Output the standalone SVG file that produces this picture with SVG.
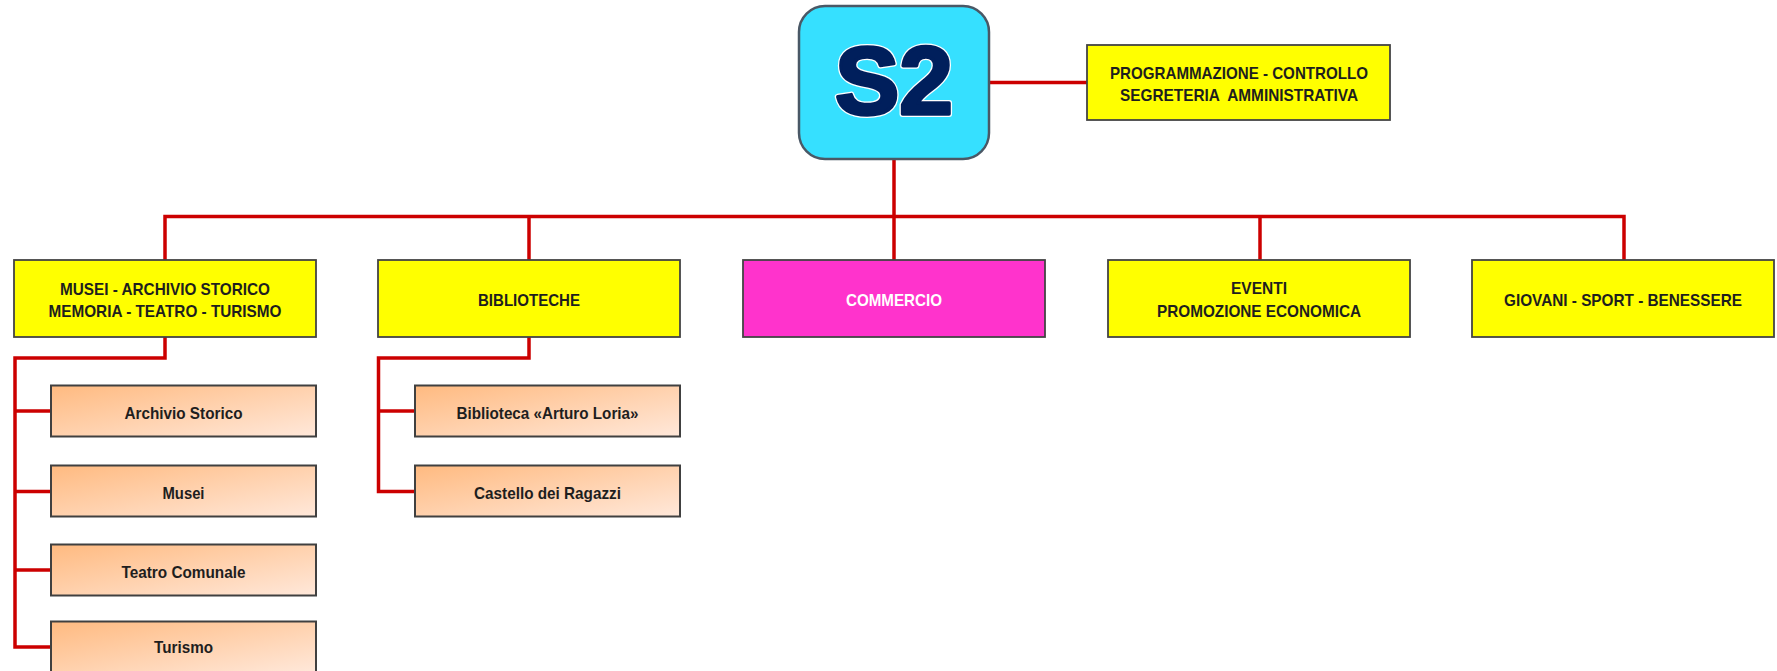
<svg xmlns="http://www.w3.org/2000/svg" width="1777" height="671" viewBox="0 0 1777 671">
<defs>
<linearGradient id="subg" x1="0" y1="0" x2="1" y2="1">
<stop offset="0" stop-color="#FFBA80"/>
<stop offset="1" stop-color="#FFE8DA"/>
</linearGradient>
</defs>
<style>
.conn{fill:none;stroke:#CC0000;stroke-width:3.5;stroke-linejoin:miter}
.yel{fill:#FFFF00;stroke:#444444;stroke-width:1.8}
.mag{fill:#FF33CC;stroke:#444444;stroke-width:1.8}
.sub{fill:url(#subg);stroke:#404040;stroke-width:2}
.t{font-family:"Liberation Sans",Arial,sans-serif;font-weight:bold;font-size:17px;fill:#1E1E1E;text-anchor:middle}
.tw{fill:#FFFFFF}
.big{font-family:"Liberation Sans",Arial,sans-serif;font-weight:bold;font-size:96px;text-anchor:middle;stroke-linejoin:round}
.halo{fill:#FFFFFF;stroke:#FFFFFF;stroke-width:6}
.ink{fill:#001F5C;stroke:#001F5C;stroke-width:3.5}
</style>
<rect width="1777" height="671" fill="#FFFFFF"/>
<g id="connectors">
<path class="conn" d="M989 82.5H1087"/>
<path class="conn" d="M894 159V216.5"/>
<path class="conn" d="M165 260V216.5H1624V260"/>
<path class="conn" d="M529 216.5V260"/>
<path class="conn" d="M894 216.5V260"/>
<path class="conn" d="M1260 216.5V260"/>
<path class="conn" d="M165 337V358H15V647H51"/>
<path class="conn" d="M15 411H51M15 491.5H51M15 570H51"/>
<path class="conn" d="M529 337V358H378.5V491.5H415"/>
<path class="conn" d="M378.5 411H415"/>
</g>
<g id="s2">
<rect x="799" y="6" width="190" height="153" rx="26" fill="#36E0FF" stroke="#4A5866" stroke-width="2.5"/>
<text class="big halo" x="894" y="114" textLength="118" lengthAdjust="spacingAndGlyphs">S2</text>
<text class="big ink" x="894" y="114" textLength="118" lengthAdjust="spacingAndGlyphs">S2</text>
</g>
<g id="programmazione">
<rect class="yel" x="1087" y="45" width="303" height="75"/>
<text class="t" x="1239" y="79" textLength="258" lengthAdjust="spacingAndGlyphs">PROGRAMMAZIONE - CONTROLLO</text>
<text class="t" x="1239" y="100.7" textLength="238" lengthAdjust="spacingAndGlyphs" xml:space="preserve">SEGRETERIA  AMMINISTRATIVA</text>
</g>
<g id="musei">
<rect class="yel" x="14" y="260" width="302" height="77"/>
<text class="t" x="165" y="295" textLength="210" lengthAdjust="spacingAndGlyphs">MUSEI - ARCHIVIO STORICO</text>
<text class="t" x="165" y="316.7" textLength="233" lengthAdjust="spacingAndGlyphs">MEMORIA - TEATRO - TURISMO</text>
</g>
<g id="biblioteche">
<rect class="yel" x="378" y="260" width="302" height="77"/>
<text class="t" x="529" y="306" textLength="102" lengthAdjust="spacingAndGlyphs">BIBLIOTECHE</text>
</g>
<g id="commercio">
<rect class="mag" x="743" y="260" width="302" height="77"/>
<text class="t tw" x="894" y="306" textLength="96" lengthAdjust="spacingAndGlyphs">COMMERCIO</text>
</g>
<g id="eventi">
<rect class="yel" x="1108" y="260" width="302" height="77"/>
<text class="t" x="1259" y="294" textLength="56" lengthAdjust="spacingAndGlyphs">EVENTI</text>
<text class="t" x="1259" y="316.7" textLength="204" lengthAdjust="spacingAndGlyphs">PROMOZIONE ECONOMICA</text>
</g>
<g id="giovani">
<rect class="yel" x="1472" y="260" width="302" height="77"/>
<text class="t" x="1623" y="306" textLength="238" lengthAdjust="spacingAndGlyphs">GIOVANI - SPORT - BENESSERE</text>
</g>
<g id="archivio">
<rect class="sub" x="51" y="385.5" width="265" height="51"/>
<text class="t" x="183.5" y="419" textLength="118" lengthAdjust="spacingAndGlyphs">Archivio Storico</text>
</g>
<g id="musei-sub">
<rect class="sub" x="51" y="465.5" width="265" height="51"/>
<text class="t" x="183.5" y="499" textLength="42" lengthAdjust="spacingAndGlyphs">Musei</text>
</g>
<g id="teatro">
<rect class="sub" x="51" y="544.5" width="265" height="51"/>
<text class="t" x="183.5" y="578" textLength="124" lengthAdjust="spacingAndGlyphs">Teatro Comunale</text>
</g>
<g id="turismo">
<rect class="sub" x="51" y="621.5" width="265" height="51"/>
<text class="t" x="183.5" y="653" textLength="59" lengthAdjust="spacingAndGlyphs">Turismo</text>
</g>
<g id="biblioteca-loria">
<rect class="sub" x="415" y="385.5" width="265" height="51"/>
<text class="t" x="547.5" y="419" textLength="182" lengthAdjust="spacingAndGlyphs">Biblioteca «Arturo Loria»</text>
</g>
<g id="castello">
<rect class="sub" x="415" y="465.5" width="265" height="51"/>
<text class="t" x="547.5" y="499" textLength="147" lengthAdjust="spacingAndGlyphs">Castello dei Ragazzi</text>
</g>
</svg>
